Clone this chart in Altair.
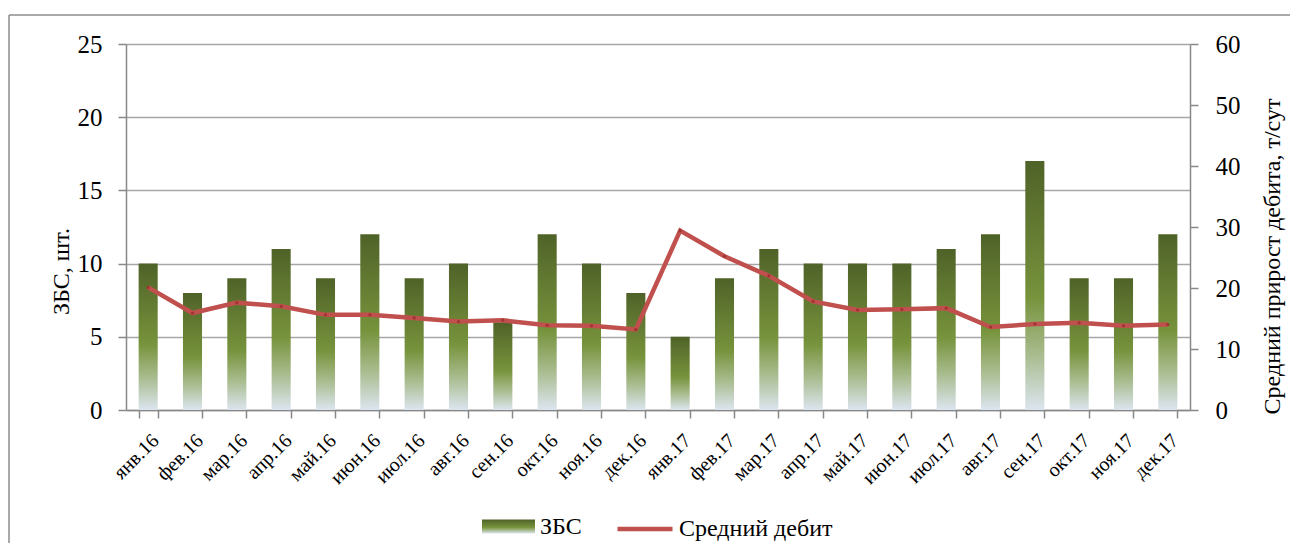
import altair as alt
import pandas as pd

months = ["янв.16", "фев.16", "мар.16", "апр.16", "май.16", "июн.16",
          "июл.16", "авг.16", "сен.16", "окт.16", "ноя.16", "дек.16",
          "янв.17", "фев.17", "мар.17", "апр.17", "май.17", "июн.17",
          "июл.17", "авг.17", "сен.17", "окт.17", "ноя.17", "дек.17"]
zbs = [10, 8, 9, 11, 9, 12, 9, 10, 6, 12, 10, 8,
       5, 9, 11, 10, 10, 10, 11, 12, 17, 9, 9, 12]
debit = [20.1, 15.9, 17.6, 17.0, 15.6, 15.6, 15.1, 14.5, 14.7, 13.9, 13.8, 13.2,
         29.4, 25.2, 22.0, 17.8, 16.4, 16.5, 16.7, 13.6, 14.1, 14.3, 13.8, 14.0]
left_ticks = [0, 5, 10, 15, 20, 25]
right_ticks = [0, 10, 20, 30, 40, 50, 60]
series_bar = "ЗБС"
series_line = "Средний дебит"

df = pd.DataFrame({"month": months, "zbs": zbs, "debit": debit})

FONT = "Liberation Serif"
GRAY = "#888888"

grad = alt.Gradient(
    gradient="linear",
    stops=[
        alt.GradientStop(color="#4f6228", offset=0),
        alt.GradientStop(color="#77933c", offset=0.55),
        alt.GradientStop(color="#a9bc8f", offset=0.78),
        alt.GradientStop(color="#dce5ef", offset=1),
    ],
    x1=0, x2=0, y1=0, y2=1,
)

xenc = alt.X(
    "month:N", sort=months, title=None,
    scale=alt.Scale(paddingInner=0.57, paddingOuter=0.285),
    axis=alt.Axis(labelAngle=-45, labelAlign="right", labelBaseline="top",
                  labelFontSize=20, labelPadding=12, tickSize=8,
                  tickBand="extent", domainColor=GRAY, tickColor=GRAY,
                  domainWidth=1.5, tickWidth=1.5, labelColor="black",
                  labelFont=FONT),
)

bars = alt.Chart(df).mark_bar(color=grad).encode(
    x=xenc,
    y=alt.Y("zbs:Q", scale=alt.Scale(domain=[0, 25], nice=False),
            axis=alt.Axis(values=left_ticks, grid=True, gridColor="#a6a6a6",
                          gridWidth=1.5, domainColor=GRAY, tickColor=GRAY,
                          domainWidth=1.5, tickWidth=1.5, tickSize=8,
                          labelPadding=16, labelFontSize=25, labelColor="black",
                          labelFont=FONT, titleFont=FONT,
                          title="ЗБС, шт.", titleFontSize=24, titleFontWeight="normal",
                          titleAngle=270, titleX=-58, titleY=227, titleAlign="center",
                          titleBaseline="alphabetic", titleColor="black")),
)

right_axis = alt.Axis(orient="right", values=right_ticks, grid=False,
                      domainColor=GRAY, tickColor=GRAY, domainWidth=1.5,
                      tickWidth=1.5, tickSize=8, labelPadding=17,
                      labelFontSize=25, labelColor="black",
                      labelFont=FONT, titleFont=FONT,
                      title="Средний прирост дебита, т/сут", titleFontSize=24,
                      titleFontWeight="normal", titleAngle=270, titleX=89,
                      titleY=212, titleAlign="center", titleBaseline="alphabetic",
                      titleColor="black")

line = alt.Chart(df).transform_calculate(s=f"'{series_line}'").mark_line(strokeWidth=4.5).encode(
    x=xenc,
    y=alt.Y("debit:Q", scale=alt.Scale(domain=[0, 60], nice=False), axis=right_axis),
    stroke=alt.Stroke(
        "s:N",
        scale=alt.Scale(domain=[series_line], range=["#c0504d"]),
        legend=alt.Legend(orient="none", legendX=489, legendY=455, title=None,
                          symbolType="stroke", symbolSize=3025, symbolStrokeWidth=4.5,
                          labelFontSize=24, labelFont=FONT, labelColor="black",
                          padding=0, labelOffset=4),
    ),
)

pts = alt.Chart(df).mark_point(filled=True, size=10, color="#9e3330", opacity=1).encode(
    x=xenc,
    y=alt.Y("debit:Q", scale=alt.Scale(domain=[0, 60], nice=False), axis=right_axis),
)

line_layer = alt.layer(line, pts)

legend_bar = alt.Chart(df).transform_filter("false").transform_calculate(
    s=f"'{series_bar}'"
).mark_point(filled=True, color=grad, opacity=1).encode(
    shape=alt.Shape(
        "s:N",
        scale=alt.Scale(domain=[series_bar], range=["M-1,-0.264H1V0.264H-1Z"]),
        legend=alt.Legend(orient="none", legendX=356, legendY=456, title=None,
                          symbolSize=2809, labelFontSize=24, labelFont=FONT,
                          labelColor="black", padding=0, labelOffset=5,
                          symbolStrokeWidth=0, symbolOpacity=1),
    )
)

one = pd.DataFrame({"a": [0]})
frame_top = alt.Chart(one).mark_rule(stroke="#8c8c8c", strokeWidth=1.5).encode(
    x=alt.value(-117), x2=alt.value(1172), y=alt.value(-29)
)
frame_left = alt.Chart(one).mark_rule(stroke="#8c8c8c", strokeWidth=1.5).encode(
    x=alt.value(-117), y=alt.value(-29), y2=alt.value(560)
)

chart = alt.layer(frame_top, frame_left, bars, line_layer, legend_bar).resolve_scale(
    y="independent"
).properties(
    width=1064, height=366, background="white",
    padding={"left": 118, "top": 36, "right": 100, "bottom": 133},
    autosize=alt.AutoSizeParams(type="none"),
).configure_view(stroke=None).configure_axis(
    labelFont=FONT, titleFont=FONT
).configure_legend(labelFont=FONT)

chart.save("out.html", embed_options={"renderer": "svg", "actions": False})
